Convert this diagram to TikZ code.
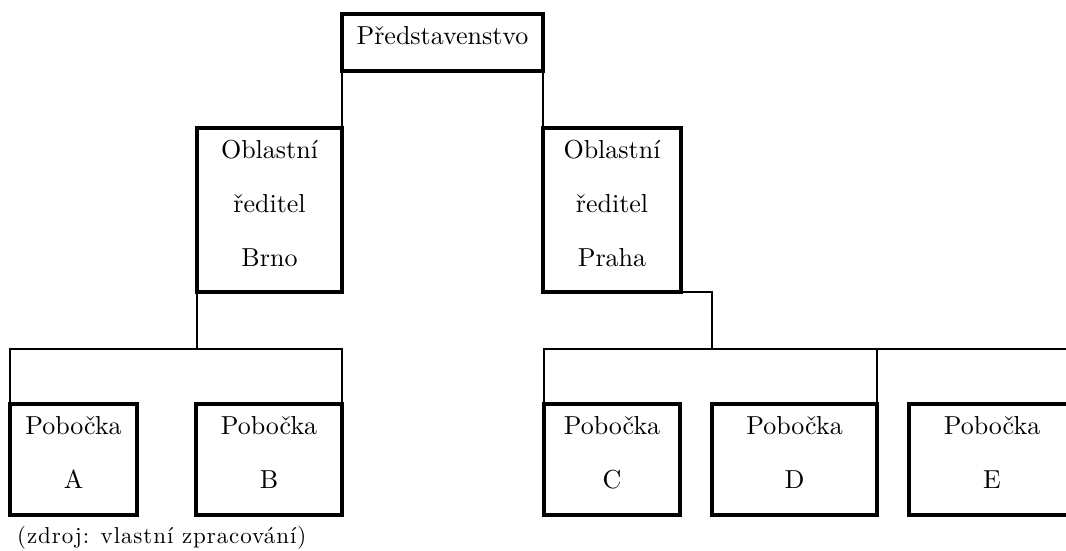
\documentclass[tikz,border=0pt]{standalone}
\usepackage{fontspec}
\setmainfont{lmroman10-regular.otf}
\usepackage{tikz}

\begin{document}
\begin{tikzpicture}[x=1pt, y=-1pt,
    unit/.style={draw=black, line width=3.5pt, rectangle, align=center,
        inner sep=0pt, outer sep=0pt, text depth=14pt,
        font=\fontsize{26}{54}\selectfont},
    link/.style={draw=black, line width=2pt}]

\clip (0, 0) rectangle (1066, 550);
\useasboundingbox (0, 0) rectangle (1066, 550);

% management
\node[unit, minimum width=201, minimum height=57] (board) at (442.5, 42.5) {Představenstvo};
\node[unit, minimum width=145, minimum height=164] (brno) at (269.5, 210) {Oblastní\\ředitel\\Brno};
\node[unit, minimum width=138, minimum height=164] (praha) at (612, 210) {Oblastní\\ředitel\\Praha};

% branches
\node[unit, minimum width=127, minimum height=111] (pobA) at (73.5, 459.5) {Pobočka\\A};
\node[unit, minimum width=146, minimum height=111] (pobB) at (269, 459.5) {Pobočka\\B};
\node[unit, minimum width=136, minimum height=111] (pobC) at (612, 459.5) {Pobočka\\C};
\node[unit, minimum width=165, minimum height=111] (pobD) at (794.5, 459.5) {Pobočka\\D};
\node[unit, minimum width=166, minimum height=111] (pobE) at (992, 459.5) {Pobočka\\E};

\coordinate (jbrno) at (197, 349);
\coordinate (jpraha) at (712, 349);

\draw[link] (board.south west) -- (brno.north east);
\draw[link] (board.south east) -- (praha.north west);

\draw[link] (brno.south west) -- (jbrno);
\draw[link] (pobA.north west) -- (pobA.north west |- jbrno) -| (pobB.north east);

\draw[link] (praha.south east) -| (jpraha);
\draw[link] (pobC.north west) -- (pobC.north west |- jpraha) -| (pobE.north east);
\draw[link] (pobD.north east) -- (pobD.north east |- jpraha);

\node[anchor=base west, inner sep=0pt,
    font=\fontsize{23}{28}\selectfont\addfontfeature{LetterSpace=4}] (source) at (17, 543) {(zdroj: vlastní zpracování)};
\end{tikzpicture}
\end{document}
